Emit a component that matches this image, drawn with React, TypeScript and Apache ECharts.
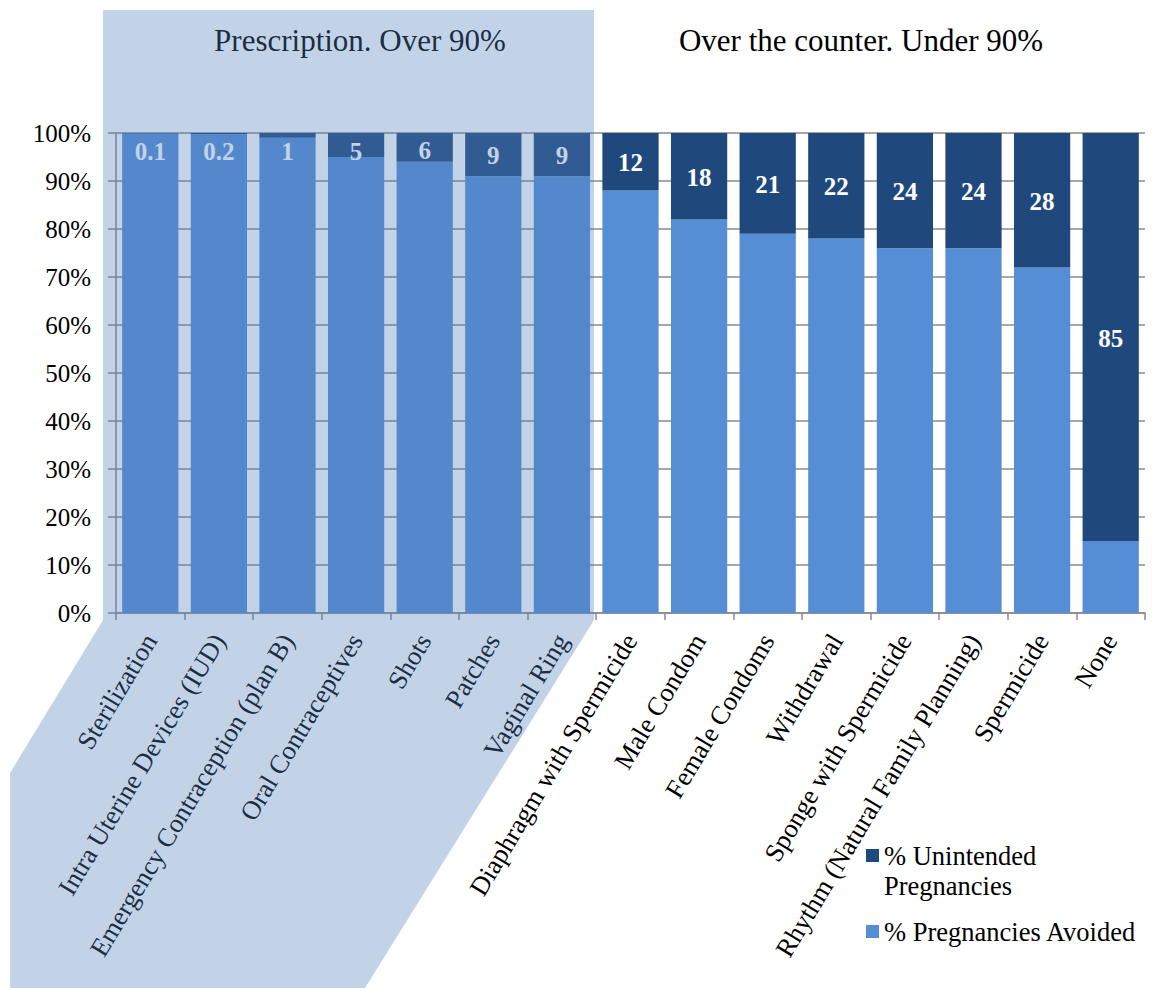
import React, { useEffect, useRef } from "react";
import * as echarts from "echarts";

const categories = [
  "Sterilization",
  "Intra Uterine Devices (IUD)",
  "Emergency Contraception (plan B)",
  "Oral Contraceptives",
  "Shots",
  "Patches",
  "Vaginal Ring",
  "Diaphragm with Spermicide",
  "Male Condom",
  "Female Condoms",
  "Withdrawal",
  "Sponge with Spermicide",
  "Rhythm (Natural Family Planning)",
  "Spermicide",
  "None",
];

const avoided = [99.9, 99.8, 99, 95, 94, 91, 91, 88, 82, 79, 78, 76, 76, 72, 15];
const unintended = [0.1, 0.2, 1, 5, 6, 9, 9, 12, 18, 21, 22, 24, 24, 28, 85];

const yTicks = [0, 10, 20, 30, 40, 50, 60, 70, 80, 90, 100];

const SERIF = "Liberation Serif, Times New Roman, serif";
const DARK = "#1F497D";
const LIGHT = "#558ED5";
const GRIDC = "#8a8a8a";

export default function App() {
  const ref = useRef<HTMLDivElement>(null);

  useEffect(() => {
    if (!ref.current) return;
    const chart = echarts.init(ref.current, null, { renderer: "svg" });
    const option: any = {
      animation: false,
      backgroundColor: "#ffffff",
      textStyle: { fontFamily: SERIF },
      grid: { left: 116, right: 7, top: 133, bottom: 375, containLabel: false },
      legend: {
        orient: "vertical",
        left: 866,
        top: 842,
        padding: 0,
        itemWidth: 13,
        itemHeight: 13,
        itemGap: 49,
        icon: "rect",
        data: ["% Unintended Pregnancies", "% Pregnancies Avoided"],
        formatter: (n: string) => (n === "% Unintended Pregnancies" ? "% Unintended" : n),
        textStyle: { fontFamily: SERIF, fontSize: 26.5, color: "#000", lineHeight: 26 },
      },
      xAxis: {
        type: "category",
        data: categories,
        boundaryGap: true,
        axisLine: { show: true, lineStyle: { color: GRIDC, width: 1.5 } },
        axisTick: { show: true, length: 7, lineStyle: { color: GRIDC, width: 1.5 } },
        axisLabel: {
          interval: 0,
          rotate: 59,
          margin: 23,
          fontFamily: SERIF,
          fontSize: 26.5,
          color: "#000",
        },
      },
      yAxis: {
        type: "value",
        min: 0,
        max: 100,
        interval: 10,
        axisLine: { show: true, lineStyle: { color: GRIDC, width: 1.5 } },
        axisTick: { show: true, length: 8, lineStyle: { color: GRIDC, width: 1.5 } },
        splitLine: { show: true, lineStyle: { color: GRIDC, width: 1.5 } },
        axisLabel: {
          margin: 25,
          fontFamily: SERIF,
          fontSize: 25,
          color: "#000",
          formatter: (v: number) => (yTicks.includes(v) ? v + "%" : ""),
        },
      },
      series: [
        {
          name: "% Pregnancies Avoided",
          type: "bar",
          stack: "total",
          barCategoryGap: "18%",
          itemStyle: { color: LIGHT },
          data: avoided,
        },
        {
          name: "% Unintended Pregnancies",
          type: "bar",
          stack: "total",
          barCategoryGap: "18%",
          itemStyle: { color: DARK },
          data: unintended.map((v) => ({
            value: v,
            label: { offset: [0, Math.max(0, 18 - v * 2.6) + 1] },
          })),
          label: {
            show: true,
            position: "inside",
            fontFamily: SERIF,
            fontSize: 25,
            fontWeight: "bold",
            color: "#ffffff",
            formatter: (p: any) => String(p.value),
          },
        },
      ],
      graphic: [
        {
          type: "text",
          z: 1,
          style: {
            text: "Prescription. Over 90%",
            x: 360,
            y: 40,
            textAlign: "center",
            textVerticalAlign: "middle",
            font: "31px " + SERIF,
            fill: "#000",
          },
        },
        {
          type: "text",
          z: 1,
          style: {
            text: "Over the counter. Under 90%",
            x: 861,
            y: 40,
            textAlign: "center",
            textVerticalAlign: "middle",
            font: "31px " + SERIF,
            fill: "#000",
          },
        },
        {
          type: "text",
          z: 1,
          style: {
            text: "Pregnancies",
            x: 884,
            y: 886,
            textAlign: "left",
            textVerticalAlign: "middle",
            font: "26.5px " + SERIF,
            fill: "#000",
          },
        },
        {
          type: "polygon",
          z: 100,
          silent: true,
          shape: {
            points: [
              [103, 10],
              [594, 10],
              [594, 620],
              [365, 988],
              [10, 988],
              [10, 773],
              [103, 620],
            ],
          },
          style: { fill: "rgba(79,129,189,0.35)", stroke: "none" },
        },
      ],
    };
    chart.setOption(option);
    return () => chart.dispose();
  }, []);

  return (
    <div
      ref={ref}
      style={{ position: "absolute", left: 0, top: 0, width: 1152, height: 988 }}
    />
  );
}
